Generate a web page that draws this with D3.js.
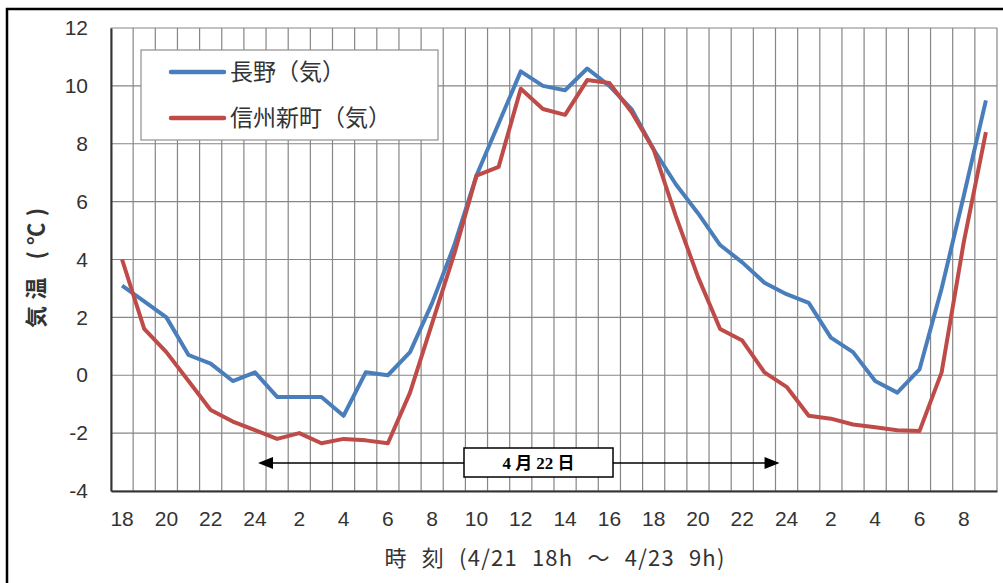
<!DOCTYPE html>
<html>
<head>
<meta charset="utf-8">
<script src="https://cdn.jsdelivr.net/npm/d3@7"></script>
<style>
  html, body { margin: 0; padding: 0; background: #fff; }
  svg { display: block; }
  text { font-family: "Noto Sans CJK JP", "Liberation Sans", sans-serif; }
</style>
</head>
<body>
<svg id="chart" width="1003" height="583"></svg>
<script>
// Hourly categories: 4/21 18h .. 4/23 9h
const categories = ["18","19","20","21","22","23","24",
  "1","2","3","4","5","6","7","8","9","10","11","12","13","14","15","16","17","18","19","20","21","22","23","24",
  "1","2","3","4","5","6","7","8","9"];
const nagano = [3.1, 2.55, 2.0, 0.7, 0.4, -0.2, 0.1, -0.75, -0.75, -0.75, -1.4, 0.1, 0.0, 0.8, 2.5, 4.5, 6.9, 8.7, 10.5, 10.0,
  9.85, 10.6, 10.0, 9.2, 7.8, 6.6, 5.6, 4.5, 3.9, 3.2, 2.8, 2.5, 1.3, 0.8, -0.2, -0.6, 0.2, 3.0, 6.2, 9.5];
const shinmachi = [4.0, 1.6, 0.8, -0.2, -1.2, -1.6, -1.9, -2.2, -2.0, -2.35, -2.2, -2.25, -2.35, -0.6, 1.8, 4.2, 6.9, 7.2, 9.9, 9.2,
  9.0, 10.2, 10.1, 9.1, 7.8, 5.5, 3.4, 1.6, 1.2, 0.1, -0.4, -1.4, -1.5, -1.7, -1.8, -1.9, -1.93, 0.1, 4.6, 8.4];
const seriesNames = ["長野（気）", "信州新町（気）"];
const yTicks = [-4, -2, 0, 2, 4, 6, 8, 10, 12];
const xTickIdx = d3.range(0, 40, 2);
const yTitle = "気温 (℃)";
const xTitle = "時 刻 (4/21 18h ～ 4/23 9h)";
const dateLabel = "4 月 22 日";
const dateSpan = [6, 30]; // category indices spanned by the date arrow

const svg = d3.select("#chart");
const L = 111, R = 997, T = 28, B = 491;
const colors = ["#4a7ebb", "#be4b48"];

const x = d3.scaleBand().domain(d3.range(categories.length)).range([L, R]).padding(0);
const xc = i => x(i) + x.bandwidth() / 2;
const y = d3.scaleLinear().domain([-4, 12]).range([B, T]);

// outer frame
svg.append("rect").attr("x", 7).attr("y", 9).attr("width", 1010).attr("height", 600)
  .attr("fill", "none").attr("stroke", "#000").attr("stroke-width", 2.5);

// grid
const g = svg.append("g");
g.selectAll("line.v").data(d3.range(categories.length + 1)).join("line")
  .attr("x1", i => L + i * x.bandwidth()).attr("x2", i => L + i * x.bandwidth())
  .attr("y1", T).attr("y2", B).attr("stroke", "#868686").attr("stroke-width", 1.2);
g.selectAll("line.h").data(yTicks).join("line")
  .attr("x1", L).attr("x2", R).attr("y1", d => y(d)).attr("y2", d => y(d))
  .attr("stroke", "#868686").attr("stroke-width", 1.2);

// axes
const xAxis = svg.append("g").attr("transform", `translate(0,${B})`)
  .call(d3.axisBottom(x).tickValues(xTickIdx).tickFormat(i => categories[i]).tickSize(0).tickPadding(20));
xAxis.select(".domain").attr("stroke", "#333").attr("stroke-width", 2);
xAxis.selectAll("text").attr("font-size", 21).attr("fill", "#333")
  .style("font-family", "'Liberation Sans', sans-serif");

const yAxis = svg.append("g").attr("transform", `translate(${L},0)`)
  .call(d3.axisLeft(y).tickValues(yTicks).tickFormat(d => String(d)).tickSize(0).tickPadding(23));
yAxis.select(".domain").attr("stroke", "#333").attr("stroke-width", 2);
yAxis.selectAll("text").attr("font-size", 21).attr("fill", "#333")
  .style("font-family", "'Liberation Sans', sans-serif");

// lines
const line = d3.line().x((d, i) => xc(i)).y(d => y(d));
[nagano, shinmachi].forEach((s, k) => {
  svg.append("path").datum(s).attr("d", line).attr("fill", "none")
    .attr("stroke", colors[k]).attr("stroke-width", 4).attr("stroke-linejoin", "round");
});

// legend
const lg = svg.append("g");
lg.append("rect").attr("x", 141).attr("y", 50).attr("width", 297).attr("height", 90)
  .attr("fill", "#fff").attr("stroke", "#8f8f8f").attr("stroke-width", 1.2);
seriesNames.forEach((n, k) => {
  const yy = 72 + k * 46;
  lg.append("line").attr("x1", 171).attr("x2", 224).attr("y1", yy).attr("y2", yy)
    .attr("stroke", colors[k]).attr("stroke-width", 4.5).attr("stroke-linecap", "round");
  lg.append("text").attr("x", 230).attr("y", yy).attr("dy", "0.36em")
    .attr("font-size", 23).attr("fill", "#333").text(n);
});

// date arrow annotation
const ay = 463;
const ax1 = xc(dateSpan[0]) + 3, ax2 = xc(dateSpan[1]) - 7;
svg.append("line").attr("x1", ax1 + 12).attr("x2", ax2 - 12).attr("y1", ay).attr("y2", ay)
  .attr("stroke", "#000").attr("stroke-width", 1.5);
svg.append("path").attr("d", `M${ax1},${ay} L${ax1 + 15},${ay - 6} L${ax1 + 15},${ay + 6} Z`).attr("fill", "#000");
svg.append("path").attr("d", `M${ax2},${ay} L${ax2 - 15},${ay - 6} L${ax2 - 15},${ay + 6} Z`).attr("fill", "#000");
svg.append("rect").attr("x", 464).attr("y", 448).attr("width", 149).attr("height", 29)
  .attr("fill", "#fff").attr("stroke", "#000").attr("stroke-width", 1.5);
svg.append("text").attr("x", 538.5).attr("y", 463).attr("dy", "0.36em").attr("text-anchor", "middle")
  .attr("font-size", 17).attr("font-weight", "bold").attr("fill", "#000")
  .style("font-family", "'Liberation Serif', 'Noto Sans CJK JP', serif").text(dateLabel);

// axis titles
svg.append("text").attr("transform", "translate(36,268) rotate(-90)")
  .attr("text-anchor", "middle").attr("dy", "0.36em").attr("font-size", 22).attr("font-weight", "bold")
  .attr("fill", "#333").attr("textLength", 120).attr("lengthAdjust", "spacing").text(yTitle);
svg.append("text").attr("x", 555).attr("y", 558).attr("text-anchor", "middle")
  .attr("dy", "0.36em").attr("font-size", 22).attr("fill", "#333")
  .attr("letter-spacing", 1.2).attr("word-spacing", 8).text(xTitle);
</script>
</body>
</html>
